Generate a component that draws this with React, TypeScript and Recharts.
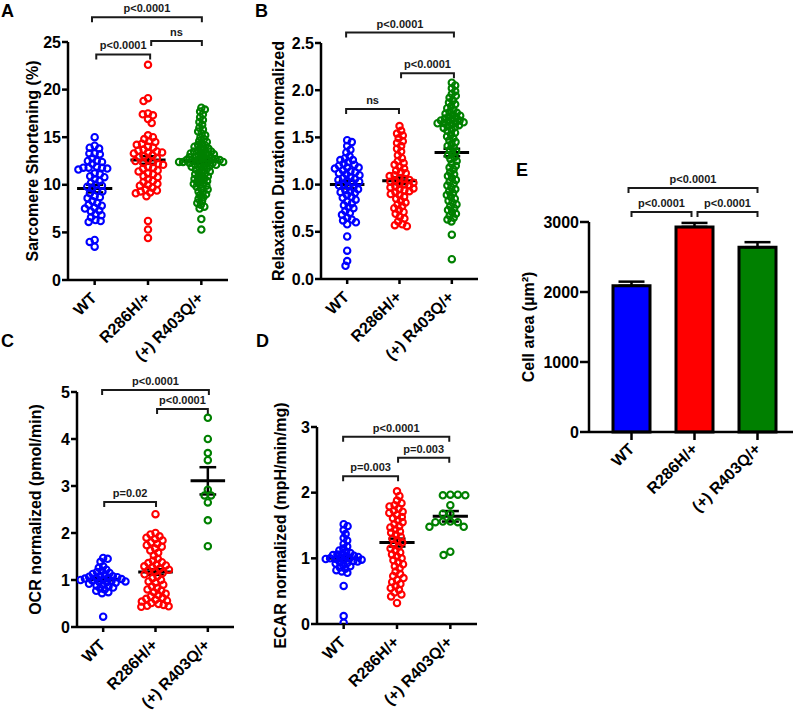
import React from 'react';
import {
  ScatterChart, Scatter, XAxis, YAxis, ReferenceLine,
  BarChart, Bar, Cell, ErrorBar,
} from 'recharts';

const FONT = '"Liberation Sans", Arial, Helvetica, sans-serif';

// ---------- categories & colours ----------
const groups = ['WT', 'R286H/+', '(+) R403Q/+'];
const colors = ['#0000FF', '#FF0000', '#008000'];

// ---------- Panel A: Sarcomere Shortening (%) ----------
const aWT = [15.0, 14.1, 13.9, 13.8, 13.3, 13.3, 13.2, 12.8, 12.5, 12.5, 12.4, 12.2, 11.9, 11.8, 11.8, 11.8, 11.7, 11.6, 11.2, 11.1, 10.9, 10.8, 10.6, 10.4, 10.2, 10.0, 9.9, 9.8, 9.6, 9.4, 9.3, 9.1, 8.8, 8.7, 8.6, 8.3, 8.1, 7.9, 7.8, 7.6, 7.5, 7.3, 7.2, 6.9, 6.8, 6.6, 6.3, 6.2, 6.1, 4.2, 4.0, 3.5];
const aR286H = [22.6, 19.1, 18.8, 17.5, 17.4, 17.3, 16.9, 16.5, 15.2, 15.0, 14.8, 14.6, 14.5, 14.3, 14.2, 14.0, 13.9, 13.7, 13.6, 13.5, 13.4, 13.4, 13.3, 13.1, 13.0, 12.9, 12.8, 12.6, 12.5, 12.4, 12.3, 12.2, 12.1, 11.9, 11.8, 11.7, 11.5, 11.4, 11.2, 11.1, 10.9, 10.8, 10.6, 10.4, 10.3, 10.1, 10.0, 9.9, 9.7, 9.5, 9.4, 9.3, 9.2, 9.1, 8.8, 6.2, 5.3, 4.4];
const aR403Q = [18.1, 17.9, 17.7, 17.4, 17.1, 16.8, 16.6, 16.3, 16.0, 15.8, 15.6, 15.4, 15.2, 15.0, 14.8, 14.6, 14.5, 14.3, 14.2, 14.1, 14.0, 13.9, 13.8, 13.7, 13.6, 13.5, 13.5, 13.4, 13.3, 13.3, 13.2, 13.1, 13.1, 13.0, 12.9, 12.9, 12.8, 12.8, 12.7, 12.7, 12.6, 12.6, 12.6, 12.5, 12.5, 12.5, 12.4, 12.4, 12.4, 12.3, 12.3, 12.2, 12.2, 12.1, 12.1, 12.0, 11.9, 11.9, 11.8, 11.7, 11.6, 11.5, 11.4, 11.3, 11.2, 11.1, 11.0, 10.9, 10.8, 10.7, 10.6, 10.5, 10.4, 10.3, 10.2, 10.1, 10.0, 9.9, 9.8, 9.6, 9.5, 9.3, 9.2, 9.0, 8.9, 8.7, 8.5, 8.3, 8.1, 7.9, 7.7, 7.5, 6.4, 5.3];
const aMean = [9.6, 12.6, 12.5];
const aSem = [0.4, 0.4, 0.2];
const aTicks = [0, 5, 10, 15, 20, 25];

// ---------- Panel B: Relaxation Duration normalized ----------
const bWT = [1.47, 1.45, 1.41, 1.37, 1.34, 1.30, 1.28, 1.26, 1.26, 1.24, 1.22, 1.21, 1.20, 1.18, 1.18, 1.17, 1.15, 1.14, 1.13, 1.12, 1.11, 1.10, 1.08, 1.07, 1.06, 1.05, 1.04, 1.03, 1.02, 1.00, 0.99, 0.98, 0.97, 0.95, 0.94, 0.93, 0.92, 0.91, 0.89, 0.87, 0.86, 0.84, 0.82, 0.80, 0.78, 0.76, 0.75, 0.72, 0.70, 0.68, 0.65, 0.63, 0.62, 0.60, 0.58, 0.45, 0.30, 0.19, 0.14];
const bR286H = [1.62, 1.57, 1.54, 1.52, 1.49, 1.46, 1.44, 1.41, 1.38, 1.35, 1.31, 1.28, 1.25, 1.23, 1.21, 1.19, 1.17, 1.15, 1.13, 1.12, 1.10, 1.09, 1.07, 1.06, 1.05, 1.04, 1.03, 1.02, 1.01, 1.00, 0.99, 0.98, 0.97, 0.96, 0.95, 0.94, 0.93, 0.92, 0.90, 0.89, 0.87, 0.85, 0.83, 0.81, 0.79, 0.77, 0.75, 0.73, 0.71, 0.69, 0.66, 0.64, 0.61, 0.58, 0.57, 0.56];
const bR403Q = [2.08, 2.05, 2.02, 1.99, 1.96, 1.94, 1.92, 1.89, 1.87, 1.85, 1.83, 1.81, 1.79, 1.77, 1.76, 1.75, 1.74, 1.73, 1.72, 1.71, 1.70, 1.69, 1.68, 1.68, 1.67, 1.66, 1.66, 1.65, 1.65, 1.64, 1.63, 1.62, 1.61, 1.60, 1.58, 1.57, 1.55, 1.53, 1.51, 1.49, 1.47, 1.45, 1.43, 1.41, 1.39, 1.37, 1.35, 1.33, 1.31, 1.29, 1.27, 1.25, 1.22, 1.20, 1.18, 1.16, 1.13, 1.11, 1.09, 1.07, 1.05, 1.03, 1.01, 0.99, 0.97, 0.95, 0.93, 0.91, 0.89, 0.87, 0.85, 0.83, 0.81, 0.79, 0.77, 0.75, 0.73, 0.71, 0.69, 0.67, 0.65, 0.63, 0.61, 0.47, 0.21];
const bMean = [1.0, 1.04, 1.34];
const bSem = [0.04, 0.035, 0.04];
const bTicks = [0, 0.5, 1.0, 1.5, 2.0, 2.5];

// ---------- Panel C: OCR normalized (pmol/min) ----------
const cWT = [1.47, 1.45, 1.39, 1.29, 1.26, 1.22, 1.19, 1.17, 1.15, 1.13, 1.11, 1.09, 1.08, 1.07, 1.06, 1.05, 1.04, 1.03, 1.02, 1.01, 1.00, 0.99, 0.98, 0.97, 0.96, 0.95, 0.94, 0.92, 0.90, 0.88, 0.86, 0.84, 0.82, 0.80, 0.77, 0.74, 0.72, 0.22];
const cR286H = [2.40, 2.00, 1.97, 1.93, 1.90, 1.87, 1.84, 1.80, 1.77, 1.74, 1.71, 1.67, 1.63, 1.58, 1.52, 1.45, 1.41, 1.38, 1.36, 1.33, 1.31, 1.29, 1.27, 1.24, 1.22, 1.20, 1.18, 1.15, 1.12, 1.08, 1.04, 1.00, 0.97, 0.94, 0.90, 0.86, 0.83, 0.80, 0.77, 0.74, 0.71, 0.68, 0.65, 0.62, 0.60, 0.58, 0.56, 0.54, 0.51, 0.49, 0.47, 0.45, 0.44, 0.43];
const cR403Q = [4.45, 4.00, 3.70, 3.55, 2.92, 2.80, 2.80, 2.65, 2.27, 1.72];
const cMean = [1.01, 1.17, 3.11];
const cSem = [0.03, 0.06, 0.29];
const cTicks = [0, 1, 2, 3, 4, 5];

// ---------- Panel D: ECAR normalized (mpH/min/mg) ----------
const dWT = [1.52, 1.49, 1.43, 1.37, 1.31, 1.27, 1.22, 1.18, 1.15, 1.12, 1.10, 1.08, 1.07, 1.06, 1.05, 1.04, 1.03, 1.02, 1.01, 1.00, 1.00, 0.99, 0.99, 0.98, 0.97, 0.96, 0.95, 0.94, 0.93, 0.92, 0.90, 0.88, 0.86, 0.84, 0.82, 0.80, 0.78, 0.58, 0.12, 0.02];
const dR286H = [2.02, 1.95, 1.88, 1.84, 1.81, 1.79, 1.76, 1.73, 1.71, 1.69, 1.66, 1.63, 1.61, 1.58, 1.55, 1.52, 1.49, 1.47, 1.44, 1.41, 1.39, 1.36, 1.33, 1.30, 1.27, 1.24, 1.21, 1.18, 1.15, 1.12, 1.09, 1.06, 1.03, 1.00, 0.97, 0.94, 0.91, 0.88, 0.85, 0.80, 0.76, 0.73, 0.70, 0.67, 0.64, 0.61, 0.58, 0.55, 0.52, 0.48, 0.45, 0.42, 0.32];
const dR403Q = [1.97, 1.97, 1.96, 1.96, 1.81, 1.68, 1.68, 1.56, 1.56, 1.55, 1.55, 1.48, 1.48, 1.10, 1.05];
const dMean = [1.0, 1.24, 1.64];
const dSem = [0.04, 0.06, 0.08];
const dTicks = [0, 1, 2, 3];

// ---------- Panel E: Cell area ----------
const eMean = [2090, 2930, 2640];
const eSem = [58, 57, 72];
const eTicks = [0, 1000, 2000, 3000];

// ---------- significance brackets ----------
const aBrackets = [
  { x1: 0.95, x2: 3.01, y: 27.6, label: 'p<0.0001' },
  { x1: 1.03, x2: 2.04, y: 23.7, label: 'p<0.0001' },
  { x1: 2.06, x2: 3.01, y: 25.1, label: 'ns' },
];
const bBrackets = [
  { x1: 0.98, x2: 3.04, y: 2.61, label: 'p<0.0001' },
  { x1: 2.03, x2: 3.04, y: 2.18, label: 'p<0.0001' },
  { x1: 0.98, x2: 1.99, y: 1.80, label: 'ns' },
];
const cBrackets = [
  { x1: 0.98, x2: 3.02, y: 5.04, label: 'p<0.0001' },
  { x1: 2.03, x2: 3.0, y: 4.64, label: 'p<0.0001' },
  { x1: 1.02, x2: 2.01, y: 2.66, label: 'p=0.02' },
];
const dBrackets = [
  { x1: 0.99, x2: 2.98, y: 2.85, label: 'p<0.0001' },
  { x1: 2.02, x2: 2.98, y: 2.53, label: 'p=0.003' },
  { x1: 0.99, x2: 2.02, y: 2.25, label: 'p=0.003' },
];
const eBrackets = [
  { x1: 'WT', x2: '(+) R403Q/+', y: 3486, label: 'p<0.0001', inL: -3, inR: 0 },
  { x1: 'WT', x2: 'R286H/+', y: 3143, label: 'p<0.0001', inL: 0, inR: 3 },
  { x1: 'R286H/+', x2: '(+) R403Q/+', y: 3143, label: 'p<0.0001', inL: 3, inR: 0 },
];

// ---------- helpers ----------
function swarm(values: number[], g: number, pxPerY: number, bandPx: number, d: number) {
  const placed: { x: number; y: number }[] = [];
  const out: { x: number; y: number }[] = [];
  const order = [...values].sort((a, b) => b - a);
  for (const v of order) {
    const y = v * pxPerY;
    const iv: [number, number][] = [];
    for (const p of placed) {
      const dy = Math.abs(p.y - y);
      if (dy < d) {
        const dx = Math.sqrt(d * d - dy * dy);
        iv.push([p.x - dx, p.x + dx]);
      }
    }
    const cands = [0];
    iv.forEach(([a, b]) => cands.push(a, b));
    const flip = placed.length % 2 === 0;
    cands.sort((a, b) => Math.abs(a) - Math.abs(b) || (flip ? a - b : b - a));
    let x = 0;
    for (const c of cands) {
      if (iv.every(([a, b]) => c <= a + 1e-6 || c >= b - 1e-6)) { x = c; break; }
    }
    placed.push({ x, y });
    out.push({ x: g + x / bandPx, y: v });
  }
  return out;
}

const ring = (color: string) => (props: any) => (
  <circle cx={props.cx} cy={props.cy} r={3.2} fill="#fff" fillOpacity={0} stroke={color} strokeWidth={2.1} />
);

const bracketShape = (label: string, inL = 0, inR = 0) => (p: any) => {
  const xa = Math.min(p.x1, p.x2) + inL;
  const xb = Math.max(p.x1, p.x2) - inR;
  const y = p.y1;
  return (
    <g>
      <path d={`M${xa},${y + 5}V${y}H${xb}V${y + 5}`} fill="none" stroke="#1a1a1a" strokeWidth={2} />
      <text x={(xa + xb) / 2} y={y - 5} textAnchor="middle" fontSize={11} fontWeight={700} fill="#1a1a1a" fontFamily={FONT}>
        {label}
      </text>
    </g>
  );
};

const RotTick = (props: any) => {
  const { x, y, payload, dx0, dy0, numeric } = props;
  const label = numeric ? groups[Math.round(payload.value) - 1] : payload.value;
  const px = x + dx0;
  const py = y + dy0;
  return (
    <text x={px} y={py} transform={`rotate(-45, ${px}, ${py})`} textAnchor="end" fontSize={16} fontWeight={700} fill="#000" fontFamily={FONT}>
      {label}
    </text>
  );
};

const axisStroke = { stroke: '#000', strokeWidth: 2.5 };
const tickFont = { fontSize: 16, fontWeight: 700, fill: '#000', fontFamily: FONT };

type PanelProps = {
  left: number; top: number; w: number; h: number;
  x0: number; x1: number; y0: number; y1: number;
  yMax: number; ticks: number[]; fmt?: (v: number) => string;
  yLabel: string; labelOff: number;
  series: number[][]; spacing: number[]; means: number[]; sems: number[];
  brackets: { x1: number; x2: number; y: number; label: string }[];
};

function SwarmPanel(p: PanelProps) {
  const pxPerY = (p.y1 - p.y0) / p.yMax;
  const bandPx = (p.x1 - p.x0) / 3;
  const pts = p.series.map((vals, i) => swarm(vals, i + 1, pxPerY, bandPx, p.spacing[i]));
  return (
    <div style={{ position: 'absolute', left: p.left, top: p.top }}>
      <ScatterChart width={p.w} height={p.h} margin={{ top: p.y0, right: p.w - p.x1, bottom: 0, left: 0 }}>
        <XAxis
          type="number" dataKey="x" domain={[0.5, 3.5]} ticks={[1, 2, 3]} interval={0}
          height={p.h - p.y1} axisLine={axisStroke} tickLine={axisStroke} tickSize={5}
          tick={(tp: any) => <RotTick {...tp} dx0={3} dy0={12} numeric />}
          allowDataOverflow
        />
        <YAxis
          type="number" dataKey="y" domain={[0, p.yMax]} ticks={p.ticks} interval={0}
          width={p.x0} axisLine={axisStroke} tickLine={axisStroke} tickSize={6} tickMargin={1}
          tick={tickFont} tickFormatter={p.fmt} allowDataOverflow
          label={{ value: p.yLabel, angle: -90, position: 'insideLeft', offset: p.labelOff,
            style: { textAnchor: 'middle', fontSize: 16, fontWeight: 700, fill: '#000', fontFamily: FONT } }}
        />
        {pts.map((data, i) => (
          <Scatter key={i} data={data} shape={ring(colors[i])} isAnimationActive={false} />
        ))}
        {p.means.map((m, i) => {
          const g = i + 1;
          const s = p.sems[i];
          return [
            <ReferenceLine key={`m${i}`} segment={[{ x: g - 0.33, y: m }, { x: g + 0.33, y: m }]} stroke="#000" strokeWidth={3} ifOverflow="visible" />,
            <ReferenceLine key={`v${i}`} segment={[{ x: g, y: m - s }, { x: g, y: m + s }]} stroke="#000" strokeWidth={2.5} ifOverflow="visible" />,
            <ReferenceLine key={`t${i}`} segment={[{ x: g - 0.16, y: m + s }, { x: g + 0.16, y: m + s }]} stroke="#000" strokeWidth={2.5} ifOverflow="visible" />,
            <ReferenceLine key={`b${i}`} segment={[{ x: g - 0.16, y: m - s }, { x: g + 0.16, y: m - s }]} stroke="#000" strokeWidth={2.5} ifOverflow="visible" />,
          ];
        })}
        {p.brackets.map((b, i) => (
          <ReferenceLine key={`br${i}`} segment={[{ x: b.x1, y: b.y }, { x: b.x2, y: b.y }]} ifOverflow="visible" shape={bracketShape(b.label)} />
        ))}
      </ScatterChart>
    </div>
  );
}

const eData = groups.map((name, i) => ({ name, mean: eMean[i], err: [0, eSem[i]] }));

function BarPanel() {
  return (
    <div style={{ position: 'absolute', left: 500, top: 160 }}>
      <BarChart width={300} height={420} data={eData} margin={{ top: 62, right: 7, bottom: 0, left: 0 }}>
        <XAxis
          dataKey="name" type="category" padding={{ left: 11, right: 4 }} height={148}
          axisLine={axisStroke} tickLine={axisStroke} tickSize={8}
          tick={(tp: any) => <RotTick {...tp} dx0={4} dy0={8} />} interval={0}
        />
        <YAxis
          type="number" domain={[0, 3000]} ticks={eTicks} interval={0} width={89}
          axisLine={axisStroke} tickLine={axisStroke} tickSize={9} tickMargin={1}
          tick={tickFont}
          label={{ value: 'Cell area (µm²)', angle: -90, position: 'insideLeft', offset: 28,
            style: { textAnchor: 'middle', fontSize: 16, fontWeight: 700, fill: '#000', fontFamily: FONT } }}
        />
        <Bar dataKey="mean" barSize={37} stroke="#000" strokeWidth={3} isAnimationActive={false}>
          {eData.map((d, i) => <Cell key={i} fill={colors[i]} />)}
          <ErrorBar dataKey="err" direction="y" width={13} stroke="#000" strokeWidth={2.5} />
        </Bar>
        {eBrackets.map((b, i) => (
          <ReferenceLine key={`eb${i}`} segment={[{ x: b.x1, y: b.y }, { x: b.x2, y: b.y }]} ifOverflow="visible" shape={bracketShape(b.label, b.inL, b.inR)} />
        ))}
      </BarChart>
    </div>
  );
}

const letters = [
  { t: 'A', x: 1, y: 17 },
  { t: 'B', x: 255, y: 17 },
  { t: 'C', x: 1, y: 347 },
  { t: 'D', x: 256, y: 347 },
  { t: 'E', x: 516, y: 176 },
];

export default function App() {
  return (
    <div style={{ position: 'absolute', left: 0, top: 0, width: 800, height: 710, background: '#fff', fontFamily: FONT, overflow: 'hidden' }}>
      <SwarmPanel left={0} top={0} w={245} h={380} x0={68} x1={228} y0={42} y1={280}
        yMax={25} ticks={aTicks} yLabel="Sarcomere Shortening (%)" labelOff={32}
        series={[aWT, aR286H, aR403Q]} spacing={[5.3, 5.3, 4.0]} means={aMean} sems={aSem} brackets={aBrackets} />
      <SwarmPanel left={260} top={0} w={240} h={380} x0={61} x1={218} y0={43} y1={279}
        yMax={2.5} ticks={bTicks} fmt={(v) => v.toFixed(1)} yLabel="Relaxation Duration normalized" labelOff={18}
        series={[bWT, bR286H, bR403Q]} spacing={[5.0, 5.0, 4.4]} means={bMean} sems={bSem} brackets={bBrackets} />
      <SwarmPanel left={0} top={330} w={250} h={380} x0={77} x1={234} y0={62} y1={297}
        yMax={5} ticks={cTicks} yLabel="OCR normalized (pmol/min)" labelOff={35}
        series={[cWT, cR286H, cR403Q]} spacing={[4.6, 5.2, 6.5]} means={cMean} sems={cSem} brackets={cBrackets} />
      <SwarmPanel left={260} top={330} w={240} h={380} x0={57} x1={217} y0={97} y1={294}
        yMax={3} ticks={dTicks} yLabel="ECAR normalized (mpH/min/mg)" labelOff={20}
        series={[dWT, dR286H, dR403Q]} spacing={[4.4, 5.2, 7.5]} means={dMean} sems={dSem} brackets={dBrackets} />
      <BarPanel />
      <svg width={800} height={710} style={{ position: 'absolute', left: 0, top: 0, pointerEvents: 'none' }}>
        {letters.map((l) => (
          <text key={l.t} x={l.x} y={l.y} fontSize={18} fontWeight={700} fill="#000" fontFamily={FONT}>{l.t}</text>
        ))}
      </svg>
    </div>
  );
}
